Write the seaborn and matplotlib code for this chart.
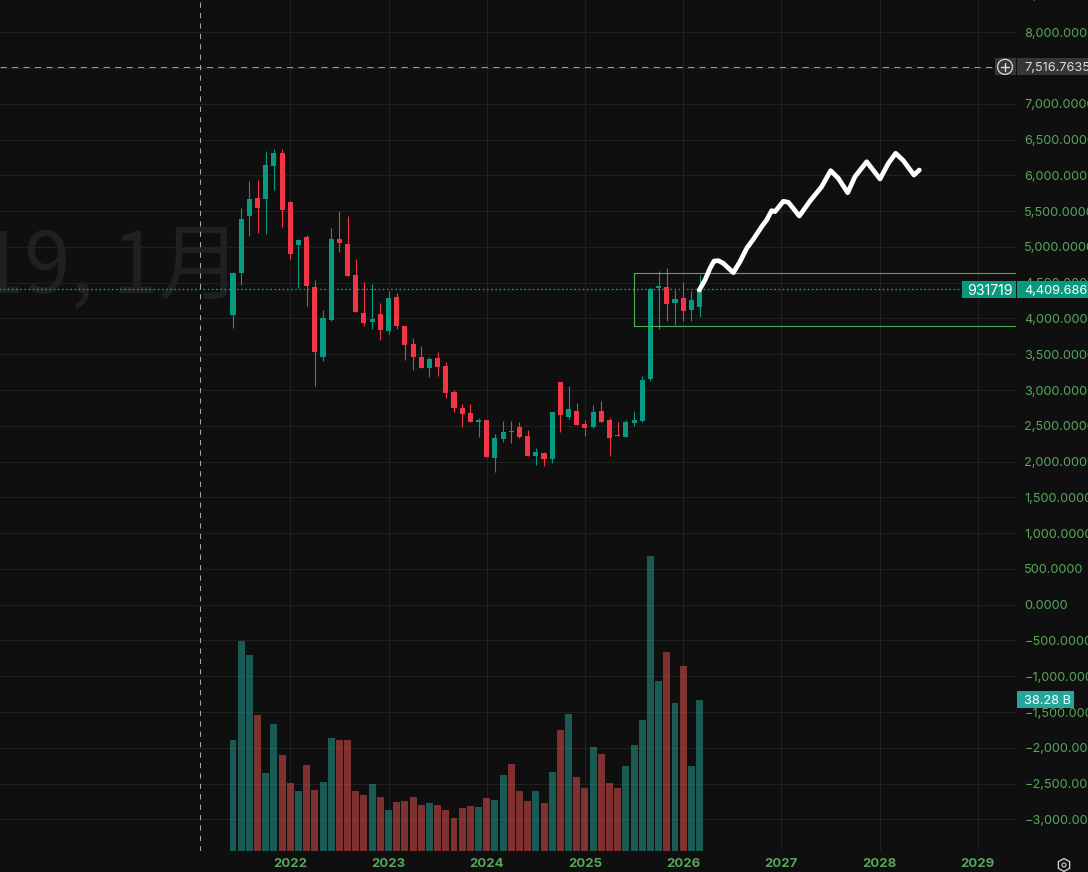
import matplotlib
matplotlib.use("Agg")
import matplotlib.pyplot as plt
from matplotlib.patches import Rectangle, Circle, RegularPolygon
from matplotlib.transforms import IdentityTransform
import numpy as np
import pandas as pd
import seaborn as sns

# ---- data (monthly, Jun 2021 .. Mar 2026) ----
opens = [4051, 4637, 5433, 5684, 5670, 6130, 6312, 5628, 5028, 5140, 4442, 3465, 3981, 5112, 5042, 4609,
         4079, 3954, 4065, 3828, 4302, 3898, 3647, 3465, 3312, 3451, 3340, 2978, 2754, 2683, 2557, 2585,
         2053, 2319, 2431, 2487, 2361, 2081, 2123, 2039, 3118, 2627, 2711, 2529, 2487, 2711, 2585, 2375,
         2347, 2543, 2571, 3160, 4421, 4435, 4211, 4281, 4112, 4155]
closes = [4637, 5391, 5670, 5544, 6144, 6312, 5516, 4902, 5098, 4456, 3535, 4009, 5112, 5056, 4595, 4093,
          3940, 3995, 3842, 4288, 3898, 3633, 3465, 3312, 3437, 3326, 2963, 2754, 2669, 2557, 2585, 2067,
          2333, 2417, 2417, 2347, 2081, 2137, 2039, 2697, 2655, 2739, 2515, 2473, 2697, 2557, 2333, 2361,
          2557, 2585, 3146, 4407, 4449, 4197, 4267, 4098, 4253, 4409.69]
highs = [4651, 5544, 5921, 5935, 6340, 6367, 6367, 5642, 5112, 5168, 4540, 4121, 5265, 5502, 5433, 4833,
         4512, 4484, 4219, 4386, 4358, 3898, 3730, 3619, 3465, 3535, 3395, 3006, 2809, 2809, 2613, 2585,
         2389, 2571, 2571, 2557, 2445, 2193, 2137, 2697, 3118, 3062, 2824, 2585, 2796, 2852, 2613, 2557,
         2585, 2711, 3202, 4435, 4659, 4701, 4393, 4505, 4379, 4603]
lows = [3870, 4470, 5154, 5195, 5181, 5795, 5279, 4833, 4428, 4177, 3061, 3409, 3968, 4930, 4595, 4093,
        3898, 3856, 3702, 3786, 3856, 3423, 3284, 3312, 3186, 3200, 2893, 2697, 2487, 2557, 2347, 2067,
        1857, 2277, 2263, 2333, 2081, 1955, 1941, 1983, 2417, 2599, 2515, 2361, 2473, 2557, 2081, 2361,
        2347, 2501, 2557, 3132, 3860, 3960, 3916, 3960, 3960, 4014]
volumes_b = [28.1, 53.2, 49.7, 34.5, 19.8, 32.2, 24.3, 17.2, 15.2, 21.8, 15.5, 17.5, 28.6, 28.1, 28.1, 15.2,
             14.2, 17.0, 13.7, 10.4, 12.4, 12.7, 13.7, 11.7, 12.2, 11.7, 10.4, 8.4, 10.9, 11.4, 11.2, 13.4,
             12.9, 19.3, 22.1, 15.2, 12.7, 15.2, 12.2, 20.0, 30.7, 34.7, 18.8, 16.0, 26.4, 24.6, 17.2, 16.0,
             21.5, 26.9, 33.2, 74.8, 43.1, 50.4, 37.5, 46.9, 21.5, 38.28]
drawn_x = [56.97, 57.67, 58.28, 58.77, 59.30, 59.91, 61.13, 61.94, 62.76, 63.57, 64.59, 65.20, 65.81, 66.22, 67.24,
           67.85, 69.19, 70.50, 71.92, 73.02, 73.96, 75.10, 75.99, 77.42, 79.05, 80.07, 80.96, 81.90, 83.20, 83.85]
drawn_y = [4398, 4538, 4701, 4803, 4808, 4771, 4640, 4794, 4981, 5107, 5283, 5377, 5507, 5493, 5638,
           5624, 5432, 5642, 5842, 6066, 5959, 5758, 5982, 6191, 5950, 6169, 6309, 6206, 6005, 6075]
year_labels = ["2022", "2023", "2024", "2025", "2026", "2027", "2028", "2029"]
year_index = [7, 19, 31, 43, 55, 67, 79, 91]
price_ticks = list(range(-3000, 8001, 500))
range_box = (49, 3891, 4632)
last_price = 4409.69
last_price_label = "4,409.6866"
cross_price = 7516.7635
cross_index = -4.03
counter_label = "931719"
volume_label = "38.28 B"
watermark = "19, 1月"

BG, GRID = "#0f0f0f", "#202020"
UP, DOWN = "#089981", "#f23645"
LABEL = "#57a55a"
W, H = 1088, 872

sns.set_theme(style="dark", rc={"axes.facecolor": BG, "figure.facecolor": BG})
plt.rcParams["font.family"] = ["Inter", "Noto Sans CJK SC", "DejaVu Sans"]

idx = np.arange(len(opens))
o, c, h, l = map(np.array, (opens, closes, highs, lows))
is_up = c >= o
df = pd.DataFrame({"i": idx, "vol": volumes_b, "dir": np.where(is_up, "up", "down")})

fig = plt.figure(figsize=(W / 100, H / 100), dpi=100)
ax = fig.add_axes([0, 21 / H, 1016 / W, 851 / H])
ax.set_facecolor(BG)
ax2 = ax.twinx()
ax2.patch.set_visible(False)

# volume
sns.barplot(data=df, x="i", y="vol", hue="dir", native_scale=True, dodge=False,
            palette={"up": "#26a69a", "down": "#ef5350"}, saturation=1, alpha=0.5,
            width=0.85, linewidth=0, legend=False, ax=ax2)
ax2.set_ylim(0, 215.7)
ax2.set_ylabel("")
ax2.set_xlabel("")
ax2.set_yticks([])
ax2.grid(False)
for s in ax2.spines.values():
    s.set_visible(False)

# candles
colors = np.where(is_up, UP, DOWN)
ax.vlines(idx, l, h, colors=colors, linewidth=0.8, zorder=3)
ax.bar(idx, np.maximum(np.abs(c - o), 14), bottom=np.minimum(o, c), width=0.62, color=colors, linewidth=0, zorder=4)

# user drawing
line = sns.lineplot(x=drawn_x, y=drawn_y, color="white", linewidth=3.4, estimator=None, sort=False, ax=ax, zorder=6)
line.lines[-1].set_solid_capstyle("round")
line.lines[-1].set_solid_joinstyle("round")

# range box
ax.add_patch(Rectangle((range_box[0], range_box[1]), 200, range_box[2] - range_box[1], fill=False,
                       edgecolor="#4caf50", linewidth=0.8, zorder=5))

ax.set_xlim(-233 / 8.185, (1016 - 233) / 8.185)
ax.set_ylim(-3442, 8451)
ax.set_xticks(year_index, year_labels)
ax.set_yticks(price_ticks)
fmt = lambda v: f"{v:,.4f}".replace("-", "\u2212")
ax.set_yticklabels([fmt(v) for v in price_ticks])
ax.set_xlabel("")
ax.set_ylabel("")
ax.yaxis.tick_right()
ax.tick_params(axis="y", length=0, pad=6, labelsize=9.2, labelcolor=LABEL, labelright=True, labelleft=False)
ax.tick_params(axis="x", length=0, pad=5, labelsize=9.5, labelcolor=LABEL)
for t in ax.get_xticklabels():
    t.set_fontweight("bold")
ax.grid(True, color=GRID, linewidth=0.8)
ax.set_axisbelow(True)
for s in ax.spines.values():
    s.set_visible(False)
ax.text(1025 / 1016, 8500, fmt(8500), transform=ax.get_yaxis_transform(), color=LABEL, fontsize=9.2,
        va="center", ha="left", clip_on=False)

# watermark
ax.text(242 / 1016, 4370, watermark, transform=ax.get_yaxis_transform(), ha="right", va="baseline",
        fontsize=60, color="#202020", family=["Noto Sans CJK SC", "DejaVu Sans"], zorder=1)

# last price line + crosshair
ax.plot([-40, 200], [last_price, last_price], color="#0aa88e", linewidth=1.0, linestyle=(0, (1.1, 1.9)), zorder=2, scalex=False)
ax.axhline(cross_price, xmax=995 / 1016, color="#9a9a9a", linewidth=0.75, linestyle=(0, (6, 5)), zorder=2)
ax.axvline(cross_index, color="#a8a8a8", linewidth=0.75, linestyle=(0, (5, 5)), zorder=2)
ax.set_xlim(-233 / 8.185, (1016 - 233) / 8.185)

fig.canvas.draw()
identity = IdentityTransform()


def tag(axis, value, x0, x1, color, text, tx=None, tc="white", size=9.2):
    yd = axis.transData.transform((0, value))[1]
    fig.add_artist(Rectangle((x0, yd - 8.5), x1 - x0, 17, transform=identity, facecolor=color, edgecolor="none", zorder=5))
    fig.text((tx if tx else x0 + 7) / W, yd / H, text, color=tc, fontsize=size, va="center_baseline", ha="left", zorder=6)
    return yd


yc = tag(ax, cross_price, 1017, 1088, "#363636", f"{cross_price:,.4f}", tc="#dddddd")
tag(ax, cross_price, 995, 1016, "#363636", "")
fig.add_artist(Circle((1005, yc), 7.5, transform=identity, facecolor="none", edgecolor="#cfcfcf", linewidth=1, zorder=7))
fig.add_artist(plt.Line2D([1001, 1009], [yc, yc], transform=identity, color="#e0e0e0", linewidth=1, zorder=7))
fig.add_artist(plt.Line2D([1005, 1005], [yc - 4, yc + 4], transform=identity, color="#e0e0e0", linewidth=1, zorder=7))
tag(ax, last_price, 1017, 1088, UP, last_price_label)
tag(ax, last_price, 962, 1016, UP, counter_label, tx=967, size=10.2)
tag(ax2, volumes_b[-1], 1017, 1074, "#26a69a", volume_label)

# settings icon
fig.add_artist(RegularPolygon((1064, 7), 6, radius=6.5, transform=identity, facecolor="none", edgecolor="#cccccc", linewidth=1, zorder=7))
fig.add_artist(Circle((1064, 7), 2, transform=identity, facecolor="none", edgecolor="#cccccc", linewidth=0.8, zorder=7))

fig.savefig("out.png", dpi=100, facecolor=BG)
